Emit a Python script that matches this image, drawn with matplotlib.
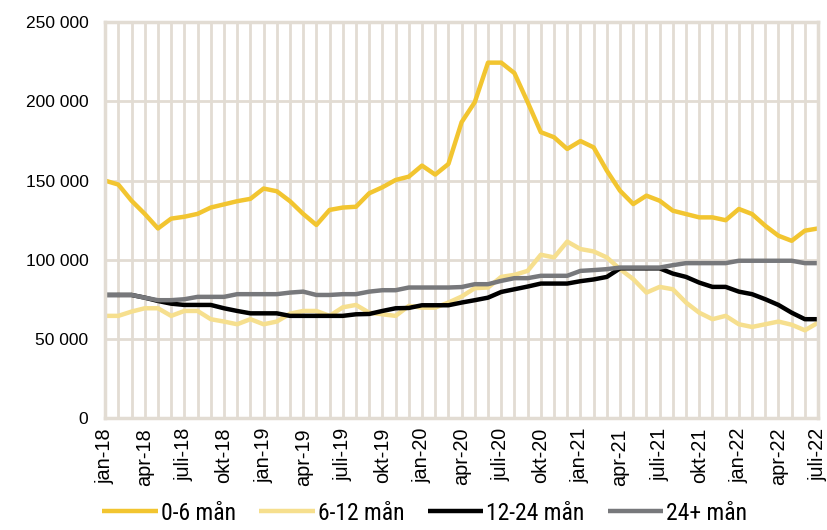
import numpy as np
import matplotlib
matplotlib.use("Agg")
import matplotlib.pyplot as plt
from matplotlib.ticker import FuncFormatter

# Månadsdata jan-18 .. juli-22 (55 månader)
manader = ["jan", "feb", "mar", "apr", "maj", "juni", "juli", "aug", "sep", "okt", "nov", "dec"]
etiketter = [f"{manader[i % 12]}-{18 + i // 12}" for i in range(55)]

m0_6 = [150000, 147500, 137300, 129000, 119800, 126000, 127200, 129000, 133000, 135000,
        137000, 138500, 145000, 143300, 137000, 129000, 122000, 131500, 133000, 133500,
        142000, 145800, 150400, 152500, 159500, 153800, 160500, 186900, 199600, 224500,
        224500, 217900, 199600, 180600, 177400, 170000, 175000, 171000, 156300, 143600,
        135200, 140500, 137300, 131000, 128900, 126800, 126800, 125000, 132100, 128900,
        121500, 115200, 112000, 118400, 119800]
m6_12 = [64600, 64600, 67300, 69400, 69400, 64600, 67700, 67700, 62500, 61000,
         59300, 62500, 59300, 61000, 66000, 67700, 67700, 64600, 70000, 71500,
         66600, 65600, 64600, 70900, 69800, 69800, 73000, 76800, 82100, 82500,
         89200, 90500, 93000, 103200, 101500, 111500, 106800, 105300, 101500, 94100,
         87800, 79300, 82900, 81400, 73000, 66600, 62500, 64600, 59300, 57600,
         59300, 61000, 59000, 55500, 60300]
m12_24 = [77800, 77800, 77800, 76100, 74000, 72300, 71500, 71500, 71500, 69400,
          67700, 66200, 66200, 66200, 64600, 64600, 64600, 64600, 64600, 65600,
          65800, 67700, 69400, 69600, 71300, 71300, 71300, 73000, 74500, 76100,
          79700, 81400, 83100, 85000, 85000, 85000, 86500, 87600, 89200, 94600,
          94600, 94600, 94600, 91300, 89200, 85600, 82900, 82900, 79900, 78300,
          75100, 71500, 66600, 62500, 62500]
m24 = [77800, 77800, 77800, 76100, 74500, 74500, 75100, 76600, 76600, 76600,
       78300, 78300, 78300, 78300, 79300, 79900, 77800, 77800, 78300, 78300,
       79900, 80800, 80800, 82500, 82500, 82500, 82500, 82800, 84600, 84600,
       86700, 88400, 88400, 89900, 89900, 89900, 93000, 93500, 94100, 95100,
       95100, 95100, 95100, 96600, 97900, 97900, 97900, 97900, 99400, 99400,
       99400, 99400, 99400, 97900, 97900]

serier = [("0-6 mån", m0_6, "#f2c530"),
          ("6-12 mån", m6_12, "#f6df8e"),
          ("12-24 mån", m12_24, "#000000"),
          ("24+ mån", m24, "#77787b")]

plt.rcParams['font.family'] = ['Liberation Sans', 'DejaVu Sans']
gridfarg = "#e2dcd3"

fig = plt.figure(figsize=(8.28, 5.30), dpi=100)
ax = fig.add_axes([0.127, 0.211, 0.861, 0.747])

x = np.arange(len(etiketter))
for namn, v, farg in serier:
    ax.plot(x, v, color=farg, lw=3.2, label=namn, solid_capstyle='butt')

ax.set_xlim(0, len(etiketter) - 1)
ax.set_ylim(0, 250000)
ax.set_yticks(range(0, 250001, 50000))
ax.yaxis.set_major_formatter(FuncFormatter(lambda v, p: f"{int(v):,}".replace(",", " ")))
ax.set_xticks(x[::3])
ax.set_xticklabels(etiketter[::3], rotation=90)
ax.set_xticks(x, minor=True)

ax.grid(True, which='both', color=gridfarg, lw=2)
ax.set_axisbelow(True)
ax.tick_params(axis='both', which='both', length=0, colors='black')
ax.tick_params(axis='y', labelsize=12.5, pad=12)
ax.tick_params(axis='x', labelsize=14.3, pad=7)
for s in ax.spines.values():
    s.set_color(gridfarg)
    s.set_linewidth(2.5)

leg = fig.legend(loc='lower center', bbox_to_anchor=(0.513, -0.03), ncol=4, frameon=False,
                 handlelength=2.35, handletextpad=0.12, columnspacing=1.0,
                 prop={'family': ['Roboto Condensed', 'DejaVu Sans'], 'size': 17})

fig.savefig("out.png", dpi=100)
